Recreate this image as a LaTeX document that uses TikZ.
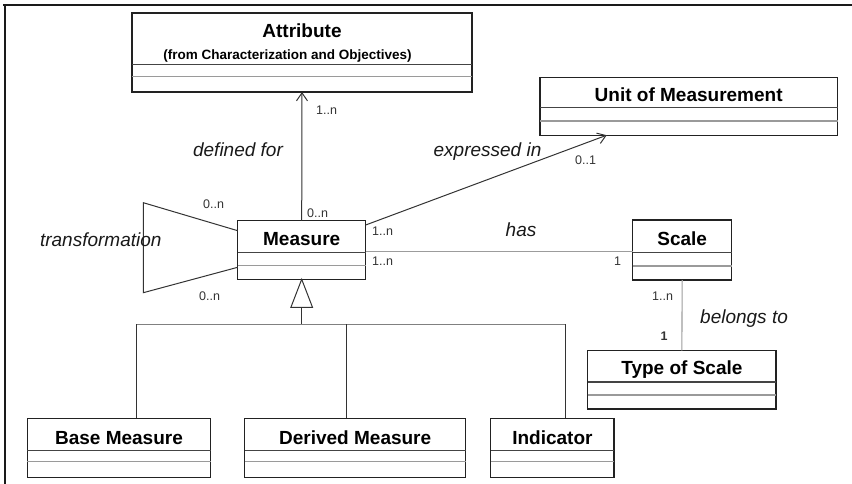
\documentclass[tikz,border=0pt]{standalone}
\usepackage{fontspec}
\setmainfont{Liberation Sans}
\usetikzlibrary{arrows.meta,calc}

\definecolor{boxc}{HTML}{222222}
\definecolor{sepdark}{HTML}{444444}
\definecolor{seplight}{HTML}{9A9A9A}
\definecolor{linec}{HTML}{333333}
\definecolor{glinec}{HTML}{9C9C9C}
\definecolor{busc}{HTML}{808080}
\definecolor{multc}{HTML}{333333}
\definecolor{framec}{HTML}{1A1A1A}

\tikzset{
  classbox/.style={draw=boxc, line width=1.1pt, fill=white, inner sep=0pt, outer sep=0pt},
  sepA/.style={draw=sepdark, line width=1.2pt},
  sepB/.style={draw=seplight, line width=1.2pt},
  cname/.style={font=\fontsize{19}{22}\selectfont\bfseries, text=black, inner sep=0pt, anchor=base},
  mult/.style={font=\fontsize{12.5}{14}\selectfont, text=multc, inner sep=0pt},
  role/.style={font=\fontsize{19}{22}\selectfont\itshape, text=black!90, inner sep=0pt},
  link/.style={draw=linec, line width=1pt},
  glink/.style={draw=glinec, line width=1.1pt},
  nav/.style={-{Straight Barb[length=8pt,width=11pt,line width=1pt]}}
}

% UML class box: name, x-left, x-right, y-top, y-sep1, y-sep2, y-bottom
\newcommand\umlclass[7]{%
  \node[classbox, minimum width={#3-#2}, minimum height={#7-#4}, anchor=north west] (#1) at (#2,#4) {};
  \draw[sepA] (#2,#5) -- (#3,#5);
  \draw[sepB] (#2,#6) -- (#3,#6);
}

\begin{document}
\begin{tikzpicture}[x=1pt,y=-1pt]
\useasboundingbox (0,0) rectangle (852,484);

% frame edges
\draw[draw=framec, line width=2pt] (3,5) -- (852,5);
\draw[draw=framec, line width=1.6pt] (5,5) -- (5,484);

% classes
\umlclass{attr}{132}{472}{13}{64.8}{76.7}{92}
\node[cname] (attr-t) at (302,37.3) {Attribute};
\node[cname, font=\fontsize{13.5}{15}\selectfont\bfseries] (attr-s) at (287.5,59.5) {(from Characterization and Objectives)};

\umlclass{unit}{540}{837.5}{77.5}{107.8}{121}{135.2}
\node[cname] (unit-t) at (688.7,101.5) {Unit of Measurement};

\umlclass{measure}{237.7}{365.7}{220.7}{252.3}{265.7}{279.3}
\node[cname] (measure-t) at (301.7,245) {Measure};

\umlclass{scale}{632.7}{731.7}{220}{252.7}{266}{280}
\node[cname] (scale-t) at (682.2,245) {Scale};

\umlclass{tscale}{587.7}{776}{350.7}{382}{395}{409}
\node[cname] (tscale-t) at (681.9,374) {Type of Scale};

\umlclass{base}{27.2}{210.9}{418.3}{450.7}{461.7}{477.7}
\node[cname] (base-t) at (119,444) {Base Measure};

\umlclass{derived}{244.6}{465.8}{418.3}{450.7}{461.7}{477.7}
\node[cname] (derived-t) at (355.2,444) {Derived Measure};

\umlclass{indic}{490.8}{614}{418.3}{450.7}{461.7}{477.7}
\node[cname] (indic-t) at (552.4,444) {Indicator};

% associations
\draw[link, nav] (measure.north) -- (attr.south);
\draw[link, nav] ([yshift=-4.3pt]measure.north east) -- ([xshift=-82pt]unit.south);
\draw[glink] ([yshift=-1.8pt]measure.east) -- ([yshift=-1.8pt]scale.west);
\draw[glink] (scale.south) -- (tscale.north);

% reflexive association
\coordinate (tr1) at (143.3,202.7);
\coordinate (tr2) at (143.3,292.7);
\draw[link] ([yshift=-10pt]measure.north west) -- (tr1) -- (tr2) -- ([yshift=12pt]measure.south west);

% generalization
\draw[link, fill=white] (measure.south) -- ++(-10.8,28) -- ++(21.6,0) -- cycle;
\coordinate (gbus) at (301.7,324.3);
\coordinate (gL) at (136.4,324.3);
\coordinate (gM) at (346.5,324.3);
\coordinate (gR) at (565,324.3);
\draw[link] ($(measure.south)+(0,28)$) -- (gbus);
\draw[draw=busc, line width=1.1pt] (gL) -- (gR);
\draw[link] (gL) -- (gL |- base.north);
\draw[link] (gM) -- (gM |- derived.north);
\draw[link] (gR) -- (gR |- indic.north);

% multiplicities and role names
\node[mult, anchor=base west] (m1) at (316,115) {1..n};
\node[role, anchor=base] (l-def) at (238,157) {defined for};
\node[mult, anchor=base west] (m2) at (307,218) {0..n};
\node[role, anchor=base] (l-exp) at (487.5,156.5) {expressed in};
\node[mult, anchor=base west] (m3) at (575,165) {0..1};
\node[mult, anchor=base west] (m4) at (372,235) {1..n};
\node[role, anchor=base] (l-has) at (521,236.7) {has};
\node[mult, anchor=base west] (m5) at (372,265) {1..n};
\node[mult, anchor=base] (m6) at (617.5,265) {1};
\node[mult, anchor=base west] (m7) at (652,300) {1..n};
\node[mult, anchor=base, font=\fontsize{12.5}{14}\selectfont\bfseries] (m8) at (664,340) {1};
\node[role, anchor=base west] (l-bel) at (700,323) {belongs to};
\node[mult, anchor=base west] (m9) at (203,208.3) {0..n};
\node[mult, anchor=base west] (m10) at (199,300) {0..n};
\node[role, anchor=base east] (l-tr) at (161.7,246) {transformation};
\end{tikzpicture}
\end{document}
